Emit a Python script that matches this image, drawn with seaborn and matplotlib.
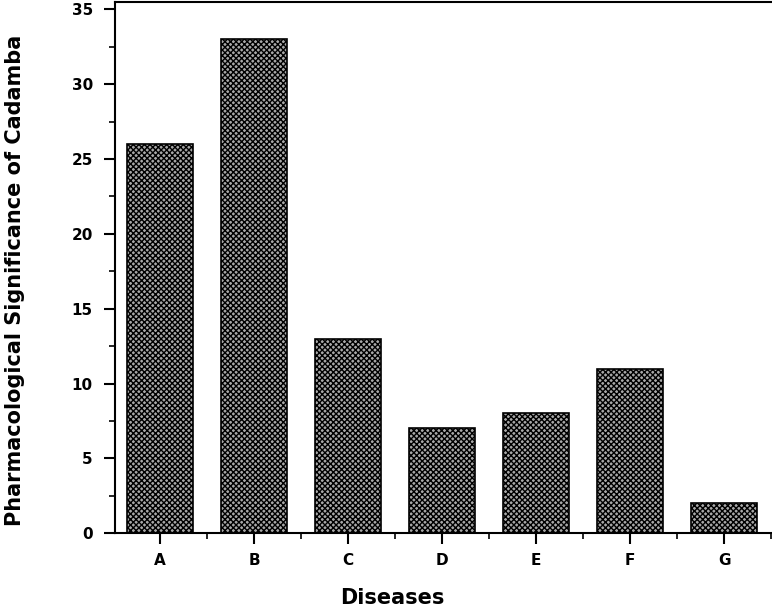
import matplotlib
matplotlib.use("Agg")
import matplotlib.pyplot as plt
import seaborn as sns
import pandas as pd
from matplotlib.ticker import MultipleLocator, FixedLocator

diseases = ["A", "B", "C", "D", "E", "F", "G"]
values = [26, 33, 13, 7, 8, 11, 2]

df = pd.DataFrame({"Diseases": diseases, "value": values})

sns.set_style("ticks")
plt.rcParams['hatch.linewidth'] = 1.0
plt.rcParams['text.color'] = 'black'
plt.rcParams['axes.labelcolor'] = 'black'
plt.rcParams['xtick.color'] = 'black'
plt.rcParams['ytick.color'] = 'black'

fig = plt.figure(figsize=(7.72, 6.08), dpi=100)
ax = fig.add_axes([0.149, 0.123, 0.851, 0.874])

sns.barplot(data=df, x="Diseases", y="value", ax=ax, color="#9a9a9a",
            width=0.7, edgecolor="black", linewidth=1.2, hatch="xxxxxx")
for p in ax.patches:
    p.set_facecolor("#a8a8a8")
    p.set_edgecolor("black")

ax.set_ylim(0, 35.5)
ax.set_xlim(-0.48, 6.51)
ax.yaxis.set_major_locator(MultipleLocator(5))
ax.yaxis.set_minor_locator(MultipleLocator(2.5))
ax.xaxis.set_minor_locator(FixedLocator([i + 0.5 for i in range(-1, 7)]))

ax.tick_params(axis="both", which="major", direction="out", length=8, width=1.5,
               labelsize=11)
ax.tick_params(axis="x", which="major", pad=6)
ax.tick_params(axis="y", which="major", pad=8)
ax.tick_params(axis="both", which="minor", direction="out", length=4, width=1.2)
for lab in ax.get_xticklabels() + ax.get_yticklabels():
    lab.set_fontweight("bold")
for s in ax.spines.values():
    s.set_linewidth(1.5)
    s.set_color("black")
ax.spines["right"].set_visible(False)

ax.set_xlabel("Diseases", fontsize=15, fontweight="bold")
ax.set_ylabel("Pharmacological Significance of Cadamba", fontsize=15,
              fontweight="bold")
ax.xaxis.set_label_coords(0.4216, -0.1036)
ax.yaxis.set_label_coords(-0.137, 0.476)

fig.savefig("out.png", dpi=100)
